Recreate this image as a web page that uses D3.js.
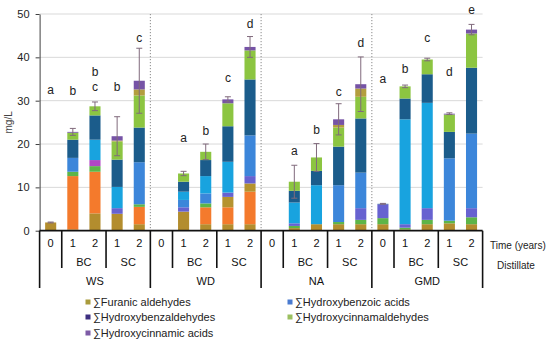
<!DOCTYPE html>
<html><head><meta charset="utf-8">
<script src="https://cdn.jsdelivr.net/npm/d3@7"></script>
<style>
body{margin:0;background:#fff}
svg{display:block;font-family:"Liberation Sans",Arial,Helvetica,sans-serif}
</style>
</head><body>
<svg id="chart" width="550" height="342"></svg>
<script>
// ---------- categories (one entry per bar) ----------
const timeLabels       = ["0","1","2","1","2", "0","1","2","1","2", "0","1","2","1","2", "0","1","2","1","2"];
const distillateLabels = ["","BC","BC","SC","SC", "","BC","BC","SC","SC", "","BC","BC","SC","SC", "","BC","BC","SC","SC"];
const originLabels     = ["WS","WS","WS","WS","WS", "WD","WD","WD","WD","WD", "NA","NA","NA","NA","NA", "GMD","GMD","GMD","GMD","GMD"];

// ---------- stacked compound values, mg/L (bottom to top) ----------
const furanicA      = [1.9,0.3,4.0,3.9,1.5, 0,4.4,1.5,1.5,1.5, 0,0.6,1.5,1.5,1.5, 1.5,0.3,1.5,1.7,1.5];
const furanicB      = [0,12.3,9.6,0,4.0, 0,0,3.9,3.9,7.5, 0,0,0,0,0, 0,0,0,0,0];
const furanicC      = [0,0,0,0,0, 0,0,0,2.4,1.9, 0,0,0,0,0, 0,0,0,0,0];
const furanicD      = [0,1.0,1.3,0,0.6, 0,0,0.9,0,0, 0,0.5,0,0.5,1.0, 1.4,0.4,1.0,0.6,1.6];
const benzaldA      = [0,0,1.4,0,0, 0,0,0,0,0, 0,0,0,0,0, 0,0,0,0,0];
const benzaldB      = [0,0,0,1.3,0, 0,1.0,0,1.0,1.7, 0,0.6,0,0,2.7, 3.2,0.8,2.7,0,2.1];
const benzoicA      = [0,3.2,0,0,9.7, 0,1.7,2.3,0,9.4, 0,0,0,8.5,8.2, 0,0,0,14.4,17.2];
const benzoicB      = [0,0,4.7,4.9,0, 0,1.9,4.0,7.1,0, 0,4.8,9.0,0,0, 0,24.2,24.3,0,0];
const benzoicC      = [0,4.2,5.6,6.3,8.0, 0,2.3,3.7,8.2,12.9, 0,2.7,3.3,8.9,12.5, 0.1,4.8,6.6,6.1,15.2];
const cinnamaldA    = [0,1.6,2.1,4.2,7.4, 0,1.9,1.9,5.3,6.7, 0,2.1,3.1,4.4,5.0, 0,2.8,3.4,4.0,7.9];
const cinnamaldB    = [0,0,0,0.2,1.4, 0,0,0,0,0, 0,0,0,0.6,1.9, 0,0,0,0,0];
const cinnamicAcids = [0,0.2,0,1.0,2.0, 0,0,0,0.9,0.8, 0,0,0,1.3,1.0, 0,0,0,0.2,0.9];

// ---------- error (SD) and significance letters ----------
const sdValues    = [0.1,0.8,1.0,4.5,7.5, 0,0.5,1.8,0.6,2.4, 0,3.8,3.2,3.6,6.3, 0.1,0.3,0.3,0.2,1.2];
const letters     = ["a","b","b c","b","c", "","a","b","c","d", "","a","b","c","d", "a","b","c","d","e"];
const letterLevel = [32.6,32.3,36.6,33.3,44.5, 0,21.5,23.1,35.3,47.8, 0,18.4,23.2,32.0,43.3, 35.1,37.4,44.5,36.6,51.0];

// ---------- axis ticks & legend ----------
const yTicks = [0,10,20,30,40,50];
const legendLabels = ["∑Furanic aldehydes","∑Hydroxybenzaldehydes","∑Hydroxycinnamic acids","∑Hydroxybenzoic acids","∑Hydroxycinnamaldehydes"];

// ---------- build table ----------
const layers = [
  {key:"furanicA", vals:furanicA, color:"#b38d2e"},
  {key:"furanicB", vals:furanicB, color:"#f47a2c"},
  {key:"furanicC", vals:furanicC, color:"#b5932f"},
  {key:"furanicD", vals:furanicD, color:"#5db548"},
  {key:"benzaldA", vals:benzaldA, color:"#b046c4"},
  {key:"benzaldB", vals:benzaldB, color:"#6762d0"},
  {key:"benzoicA", vals:benzoicA, color:"#3c86da"},
  {key:"benzoicB", vals:benzoicB, color:"#18a3df"},
  {key:"benzoicC", vals:benzoicC, color:"#1b5c8b"},
  {key:"cinnamaldA", vals:cinnamaldA, color:"#8cc541"},
  {key:"cinnamaldB", vals:cinnamaldB, color:"#b39e3e"},
  {key:"cinnamicAcids", vals:cinnamicAcids, color:"#7653a6"}
];
const legendColors = ["#a99b3c","#3d2f80","#7d5ba6","#4a7bd0","#9bc060"];

const table = timeLabels.map((t,i)=>{
  const row = {i};
  layers.forEach(l=>row[l.key]=l.vals[i]);
  return row;
});
const totals = table.map(r=>d3.sum(layers,l=>r[l.key]));

const svg = d3.select("#chart");
const x0 = 39.6, x1 = 482.6;
const x = d3.scaleBand().domain(d3.range(timeLabels.length)).range([x0,x1]).paddingInner(0.5).paddingOuter(0.25);
const y = d3.scaleLinear().domain([0,50]).range([230.7,14]);
const step = x.step();

// gridlines
svg.append("g").selectAll("line").data(yTicks.filter(v=>v>0)).join("line")
  .attr("x1",x0).attr("x2",x1).attr("y1",d=>y(d)).attr("y2",d=>y(d))
  .attr("stroke","#d9d9d9").attr("stroke-width",1);

// group separators (dotted)
svg.append("g").selectAll("line").data([5,10,15]).join("line")
  .attr("x1",k=>x0+k*step).attr("x2",k=>x0+k*step)
  .attr("y1",y(50)).attr("y2",y(0))
  .attr("stroke","#8a8a8a").attr("stroke-width",1).attr("stroke-dasharray","1.2,1.8");

// stacked bars
const stack = d3.stack().keys(layers.map(l=>l.key));
const series = stack(table);
svg.append("g").selectAll("g").data(series).join("g")
  .attr("fill",(d,i)=>layers[i].color)
  .selectAll("rect").data(d=>d.filter(s=>s[1]-s[0]>0)).join("rect")
  .attr("x",d=>x(d.data.i)).attr("width",x.bandwidth())
  .attr("y",d=>y(d[1])).attr("height",d=>y(d[0])-y(d[1]));

// error bars
const eb = svg.append("g").attr("stroke","#806a7c").attr("stroke-width",1).attr("fill","none");
table.forEach((r,i)=>{
  if(totals[i]<=0 || sdValues[i]<=0) return;
  const cx = x(i)+x.bandwidth()/2;
  const lo = totals[i]-sdValues[i], hi = totals[i]+sdValues[i];
  eb.append("line").attr("x1",cx).attr("x2",cx).attr("y1",y(lo)).attr("y2",y(hi));
  eb.append("line").attr("x1",cx-3).attr("x2",cx+3).attr("y1",y(hi)).attr("y2",y(hi));
  eb.append("line").attr("x1",cx-3).attr("x2",cx+3).attr("y1",y(lo)).attr("y2",y(lo));
});

// significance letters
letters.forEach((t,i)=>{
  if(!t) return;
  const cx = x(i)+x.bandwidth()/2;
  const parts = t.split(" ");
  const txt = svg.append("text").attr("x",cx).attr("y",y(letterLevel[i]))
    .attr("text-anchor","middle").attr("font-size",12).attr("fill","#222");
  parts.forEach((p,j)=>{
    txt.append("tspan").attr("x",cx).attr("dy",j===0?"0.35em":"1.2em").text(p);
  });
});

// y axis
const yAxis = svg.append("g").attr("transform",`translate(${x0},0)`)
  .call(d3.axisLeft(y).tickValues(yTicks).tickSize(4).tickPadding(6).tickSizeOuter(0));
yAxis.select(".domain").attr("stroke","#404040");
yAxis.selectAll(".tick line").attr("stroke","#404040");
yAxis.selectAll("text").attr("font-size",11).attr("fill","#222").attr("font-family","Liberation Sans, Arial, sans-serif");

svg.append("text").attr("transform",`translate(12,${y(25)}) rotate(-90)`)
  .attr("text-anchor","middle").attr("font-size",10).attr("fill","#444").text("mg/L");

// category table below axis
const base = y(0);
const row1 = base+16.5, row2 = base+35, row3 = base+54;
const midBottom = 268, fullBottom = 288;
const cat = svg.append("g");
cat.append("line").attr("x1",x0).attr("x2",x1).attr("y1",base).attr("y2",base)
  .attr("stroke","#111").attr("stroke-width",1.8);
// separators
d3.range(0,21).forEach(k=>{
  let bottom = null;
  if(k%5===0) bottom = fullBottom;
  else if(k%5===1 || k%5===3) bottom = midBottom;
  if(bottom===null) return;
  cat.append("line").attr("x1",x0+k*step).attr("x2",x0+k*step)
    .attr("y1",base).attr("y2",bottom).attr("stroke","#111").attr("stroke-width",1.6);
});
// time labels
cat.selectAll("text.t").data(timeLabels).join("text").attr("class","t")
  .attr("x",(d,i)=>x(i)+x.bandwidth()/2).attr("y",row1)
  .attr("text-anchor","middle").attr("font-size",11).attr("fill","#111").text(d=>d);
// distillate labels (grouped)
const dGroups = d3.groups(distillateLabels.map((d,i)=>({d,i,o:originLabels[i]})).filter(e=>e.d),e=>e.o+"|"+e.d);
dGroups.forEach(([k,arr])=>{
  const a = x(arr[0].i), b = x(arr[arr.length-1].i)+x.bandwidth();
  cat.append("text").attr("x",(a+b)/2).attr("y",row2).attr("text-anchor","middle")
    .attr("font-size",11).attr("fill","#111").text(arr[0].d);
});
// origin labels
d3.groups(originLabels.map((o,i)=>({o,i})),e=>e.o).forEach(([o,arr])=>{
  const a = x0+arr[0].i*step, b = x0+(arr[arr.length-1].i+1)*step;
  cat.append("text").attr("x",(a+b)/2).attr("y",row3).attr("text-anchor","middle")
    .attr("font-size",11).attr("fill","#111").text(o);
});
svg.append("text").attr("x",490).attr("y",row1+1.5).attr("font-size",10).attr("fill","#222").text("Time (years)");
svg.append("text").attr("x",497).attr("y",row2+3.5).attr("font-size",10).attr("fill","#222").text("Distillate");

// legend
const legPos = [[88,302],[88,317],[88,333],[290,302],[290,317]];
const leg = svg.append("g");
legendLabels.forEach((lab,i)=>{
  const [lx,ly] = legPos[i];
  leg.append("rect").attr("x",lx-2.5).attr("y",ly-2.5).attr("width",5).attr("height",5).attr("fill",legendColors[i]);
  leg.append("text").attr("x",lx+5).attr("y",ly+4).attr("font-size",11).attr("fill","#222").text(lab);
});
</script>
</body></html>
